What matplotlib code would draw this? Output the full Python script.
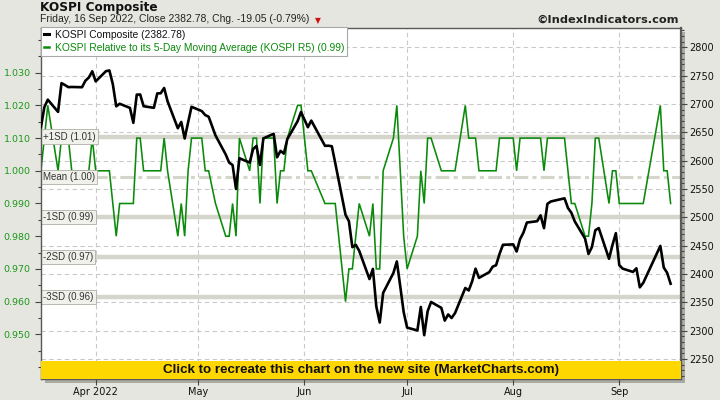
import numpy as np
import matplotlib
matplotlib.use('Agg')
import matplotlib.pyplot as plt
import matplotlib.dates as mdates
from matplotlib.lines import Line2D
from matplotlib.patches import Rectangle
from matplotlib.ticker import MultipleLocator, FixedLocator, FixedFormatter, FormatStrFormatter

# ---------------- data ----------------
dates = [
    '2022-03-16', '2022-03-17', '2022-03-18', '2022-03-21', '2022-03-22', '2022-03-23',
    '2022-03-24', '2022-03-25', '2022-03-28', '2022-03-29', '2022-03-30', '2022-03-31',
    '2022-04-01', '2022-04-04', '2022-04-05', '2022-04-06', '2022-04-07', '2022-04-08',
    '2022-04-11', '2022-04-12', '2022-04-13', '2022-04-14', '2022-04-15', '2022-04-18',
    '2022-04-19', '2022-04-20', '2022-04-21', '2022-04-22', '2022-04-25', '2022-04-26',
    '2022-04-27', '2022-04-28', '2022-04-29',
    '2022-05-02', '2022-05-03', '2022-05-04', '2022-05-06', '2022-05-09', '2022-05-10',
    '2022-05-11', '2022-05-12', '2022-05-13', '2022-05-16', '2022-05-17', '2022-05-18',
    '2022-05-19', '2022-05-20', '2022-05-23', '2022-05-24', '2022-05-25', '2022-05-26',
    '2022-05-27', '2022-05-30', '2022-05-31',
    '2022-06-02', '2022-06-03', '2022-06-07', '2022-06-08', '2022-06-09', '2022-06-10',
    '2022-06-13', '2022-06-14', '2022-06-15', '2022-06-16', '2022-06-17', '2022-06-20',
    '2022-06-21', '2022-06-22', '2022-06-23', '2022-06-24', '2022-06-27', '2022-06-28',
    '2022-06-29', '2022-06-30',
    '2022-07-01', '2022-07-04', '2022-07-05', '2022-07-06', '2022-07-07', '2022-07-08',
    '2022-07-11', '2022-07-12', '2022-07-13', '2022-07-14', '2022-07-15', '2022-07-18',
    '2022-07-19', '2022-07-20', '2022-07-21', '2022-07-22', '2022-07-25', '2022-07-26',
    '2022-07-27', '2022-07-28', '2022-07-29',
    '2022-08-01', '2022-08-02', '2022-08-03', '2022-08-04', '2022-08-05', '2022-08-08',
    '2022-08-09', '2022-08-10', '2022-08-11', '2022-08-12', '2022-08-16', '2022-08-17',
    '2022-08-18', '2022-08-19', '2022-08-22', '2022-08-23', '2022-08-24', '2022-08-25',
    '2022-08-26', '2022-08-29', '2022-08-30', '2022-08-31',
    '2022-09-01', '2022-09-02', '2022-09-05', '2022-09-06', '2022-09-07', '2022-09-08',
    '2022-09-13', '2022-09-14', '2022-09-15', '2022-09-16',
]

kospi = [
    2659.23, 2694.51, 2707.64, 2686.05, 2736.80, 2733.50, 2729.70, 2729.98, 2729.56, 2741.07, 2746.74, 2757.65,
    2739.85, 2757.90, 2759.20, 2735.03, 2695.86, 2700.39, 2693.10, 2666.76, 2716.49, 2716.71, 2696.06, 2693.21,
    2718.69, 2718.89, 2728.21, 2704.71, 2657.13, 2668.31, 2639.06, 2667.49, 2695.05,
    2687.45, 2680.46, 2677.57, 2644.51, 2610.81, 2596.56, 2592.27, 2550.08, 2604.24, 2596.58, 2620.44, 2625.98,
    2592.34, 2639.29, 2647.38, 2605.87, 2617.22, 2612.45, 2638.05, 2669.66, 2685.90,
    2658.99, 2670.65, 2626.15, 2626.34, 2625.44, 2595.87, 2504.51, 2492.97, 2447.38, 2451.41, 2440.93, 2391.03,
    2408.93, 2342.81, 2314.32, 2366.60, 2401.92, 2422.09, 2377.99, 2332.64,
    2305.42, 2300.34, 2341.78, 2292.01, 2334.27, 2350.61, 2340.27, 2317.76, 2328.61, 2322.32, 2330.98, 2375.25,
    2370.92, 2386.85, 2409.34, 2393.14, 2403.22, 2412.88, 2415.53, 2435.27, 2451.50,
    2452.25, 2439.62, 2461.45, 2473.11, 2490.80, 2493.10, 2503.46, 2480.88, 2523.78, 2527.94, 2533.52, 2516.47,
    2508.05, 2492.69, 2462.50, 2435.34, 2447.45, 2477.26, 2481.03, 2426.89, 2450.93, 2472.05,
    2415.61, 2409.41, 2403.68, 2410.02, 2376.46, 2384.28, 2449.54, 2411.42, 2401.83, 2382.78,
]

r5 = [
    1.00, 1.01, 1.02, 1.00, 1.01, 1.01, 1.01, 1.00, 1.00, 1.00, 1.00, 1.01,
    1.00, 1.00, 1.00, 0.99, 0.98, 0.99, 0.99, 0.99, 1.01, 1.01, 1.00, 1.00,
    1.00, 1.00, 1.01, 1.00, 0.98, 0.99, 0.98, 1.00, 1.01,
    1.01, 1.00, 1.00, 0.99, 0.98, 0.98, 0.99, 0.98, 1.01, 1.00, 1.01, 1.01,
    0.99, 1.01, 1.01, 0.99, 1.00, 1.00, 1.01, 1.02, 1.02,
    1.00, 1.00, 0.99, 0.99, 0.99, 0.99, 0.96, 0.97, 0.97, 0.98, 0.99, 0.98,
    0.99, 0.97, 0.97, 1.00, 1.01, 1.02, 1.00, 0.98,
    0.97, 0.98, 1.00, 0.99, 1.01, 1.01, 1.00, 1.00, 1.00, 1.00, 1.00, 1.02,
    1.01, 1.01, 1.01, 1.00, 1.00, 1.00, 1.00, 1.01, 1.01,
    1.01, 1.00, 1.01, 1.01, 1.01, 1.01, 1.01, 1.00, 1.01, 1.01, 1.01, 1.00,
    0.99, 0.99, 0.98, 0.98, 0.99, 1.01, 1.01, 0.99, 1.00, 1.00,
    0.99, 0.99, 0.99, 0.99, 0.99, 0.99, 1.02, 1.00, 1.00, 0.99,
]

month_ticks = ['2022-04-01', '2022-05-01', '2022-06-01', '2022-07-01', '2022-08-01', '2022-09-01']
month_labels = ['Apr 2022', 'May', 'Jun', 'Jul', 'Aug', 'Sep']
left_ticks = [0.950, 0.960, 0.970, 0.980, 0.990, 1.000, 1.010, 1.020, 1.030]
right_ticks = [2250, 2300, 2350, 2400, 2450, 2500, 2550, 2600, 2650, 2700, 2750, 2800]
sd_levels = [1, 0, -1, -2, -3]

title = 'KOSPI Composite'
subtitle = 'Friday, 16 Sep 2022, Close 2382.78, Chg. -19.05 (-0.79%)'
copyright_txt = '\u00a9IndexIndicators.com'
banner_txt = 'Click to recreate this chart on the new site (MarketCharts.com)'
legend_labels = ['KOSPI Composite (2382.78)',
                 'KOSPI Relative to its 5-Day Moving Average (KOSPI R5) (0.99)']

# ---------------- style ----------------
GREEN = '#0a8a0a'
BAND = '#d5d5cb'
GRID = '#c9c9c9'
BG = '#e6e6e0'
SPINE = '#5a5a5a'
NARROW = 'Liberation Sans'

W, H = 720, 400
fig = plt.figure(figsize=(W / 100, H / 100), dpi=100)
fig.patch.set_facecolor(BG)

L, R, T, B = 40.5, 680.5, 27.7, 379.0
rect = [L / W, 1 - B / H, (R - L) / W, (B - T) / H]

# drop shadow of the plot frame
fig.patches.append(Rectangle(((L + 4) / W, 1 - (B + 4) / H), (R - L) / W, (B - T) / H,
                             transform=fig.transFigure, facecolor='#aaaaa4',
                             edgecolor='none', zorder=-5))

ax_k = fig.add_axes(rect)        # bottom: grid + right (KOSPI) axis
ax_k.set_facecolor('white')
ax_g = ax_k.twinx()              # middle: R5 + bands, left axis
ax_b = ax_k.twinx()              # top: KOSPI line, frame, legend, banner

x = np.array(dates, dtype='datetime64[D]')
k = np.array(kospi)
g = np.array(r5)

x0 = mdates.date2num(np.datetime64('2022-04-01'))
ax_k.set_xlim(x0 - 16.13, x0 + 170.89)

k_lim = (2214.7, 2834.6)
g_lim = (0.93633, 1.04376)
ax_k.set_ylim(*k_lim)
ax_b.set_ylim(*k_lim)
ax_g.set_ylim(*g_lim)

# ---- bottom axes: ticks and grid
ax_k.yaxis.tick_right()
ax_k.yaxis.set_major_locator(FixedLocator(right_ticks))
ax_k.yaxis.set_major_formatter(FormatStrFormatter('%d'))
ax_k.yaxis.set_minor_locator(MultipleLocator(10))
mt = mdates.date2num(np.array(month_ticks, dtype='datetime64[D]'))
ax_k.xaxis.set_major_locator(FixedLocator(mt))
ax_k.xaxis.set_major_formatter(FixedFormatter(month_labels))
ax_k.tick_params(axis='y', which='major', length=4, width=0.8, color='#444444',
                 labelsize=7, pad=2, labelcolor='#111111')
ax_k.tick_params(axis='y', which='minor', length=2, width=0.8, color='#444444')
ax_k.tick_params(axis='x', which='major', length=4, width=0.8, color='#444444',
                 labelsize=7, pad=2, labelcolor='#111111')
ax_k.grid(True, which='major', axis='both', color=GRID, linestyle=(0, (4, 3)), lw=0.8)
for s in ax_k.spines.values():
    s.set_visible(False)

# ---- middle axes: R5 line, SD bands, labels
ax_g.yaxis.tick_left()
ax_g.yaxis.set_major_locator(FixedLocator(left_ticks))
ax_g.yaxis.set_major_formatter(FormatStrFormatter('%.3f'))
ax_g.yaxis.set_minor_locator(MultipleLocator(0.005))
ax_g.tick_params(axis='y', which='major', length=4, width=0.8, color='#444444',
                 labelsize=6.8, pad=3, labelcolor='#1a961a')
ax_g.tick_params(axis='y', which='minor', length=2, width=0.8, color='#444444')
for s in ax_g.spines.values():
    s.set_visible(False)

mean = g.mean()
sd = g.std()
for n in sd_levels:
    lvl = mean + n * sd
    if n == 0:
        ax_g.axhline(lvl, color=BAND, lw=2.2, linestyle=(0, (4.5, 1.4, 1.3, 1.4)), zorder=1)
        lab = 'Mean (%.2f)' % lvl
    else:
        ax_g.axhline(lvl, color=BAND, lw=3.2, zorder=1)
        lab = '%+dSD (%.2f)' % (n, lvl)
    ax_g.text(0.004, lvl, lab, transform=ax_g.get_yaxis_transform(), ha='left', va='center',
              fontsize=7, family=NARROW, color='#333333', zorder=6,
              bbox=dict(boxstyle='square,pad=0.22', facecolor='#f1f1ec', edgecolor='#b0b0a8', lw=0.6))

ax_g.plot(x, g, color=GREEN, lw=1.15, zorder=3, solid_joinstyle='miter')

# ---- top axes: KOSPI line, frame, legend, banner
ax_b.plot(x, k, color='black', lw=1.9, zorder=3)
ax_b.set_yticks([])
for s in ax_b.spines.values():
    s.set_visible(True)
    s.set_color(SPINE)
    s.set_linewidth(1.0)
ax_b.spines['right'].set_linewidth(1.6)

ax_b.add_patch(Rectangle((0, 0), 1, (B - 361) / (B - T), transform=ax_b.transAxes,
                         facecolor='#ffd700', edgecolor='none', zorder=10))
ax_b.text(0.5, (B - 361) / (B - T) / 2, banner_txt, transform=ax_b.transAxes,
          ha='center', va='center', fontsize=9.6, family=NARROW, fontweight='bold',
          color='#111111', zorder=11)

handles = [Line2D([], [], color='black', lw=2.2), Line2D([], [], color=GREEN, lw=1.8)]
leg = ax_b.legend(handles, legend_labels, loc='upper left', bbox_to_anchor=(0, 1.003),
                  borderaxespad=0, fancybox=False, framealpha=1, edgecolor='#a8a8a8',
                  prop={'family': NARROW, 'size': 7.4}, handlelength=0.5, handletextpad=0.6,
                  borderpad=0.3, labelspacing=0.3, labelcolor=['#111111', GREEN])
leg.get_frame().set_linewidth(0.8)
leg.set_zorder(12)

# ---- header texts
fig.text(40 / W, 1 - 8 / H, title, ha='left', va='center', fontsize=8.7,
         fontweight='bold', color='#111111')
fig.text(40 / W, 1 - 18.5 / H, subtitle, ha='left', va='center', fontsize=7.5,
         family=NARROW, color='#222222')
fig.text(318 / W, 1 - 20.5 / H, '\u25bc', ha='center', va='center', fontsize=5.5,
         color='#d01010')
fig.text(679 / W, 1 - 19.5 / H, copyright_txt, ha='right', va='center', fontsize=8.2,
         fontweight='bold', color='#222222')

fig.savefig('out.png', dpi=100, facecolor=fig.get_facecolor())
